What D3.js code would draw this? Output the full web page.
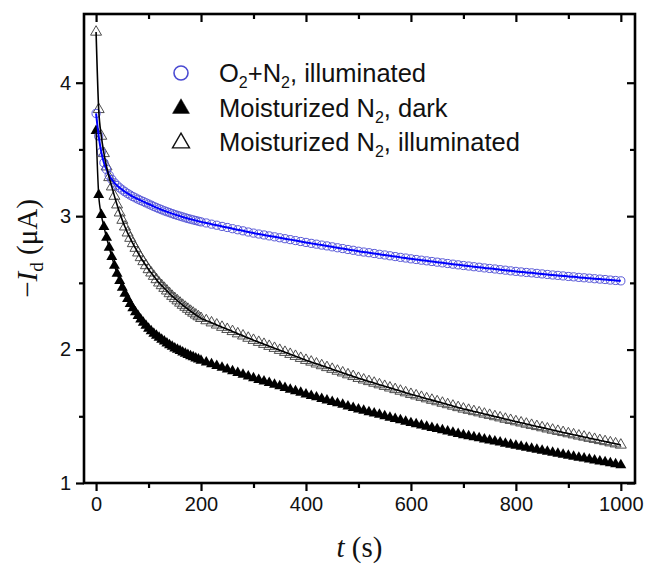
<!DOCTYPE html>
<html>
<head>
<meta charset="utf-8">
<script src="https://cdn.jsdelivr.net/npm/d3@7"></script>
<style>
  body { margin: 0; background: #fff; }
  svg { display: block; }
</style>
</head>
<body>
<svg id="chart" width="647" height="570"></svg>
<script>
// Sampling times (s): every 5 s up to 200 s, then every 10 s
const times = [
  0, 5, 10, 15, 20, 25, 30, 35, 40, 45, 50, 55, 60, 65, 70, 75, 80, 85, 90, 95,
  100, 105, 110, 115, 120, 125, 130, 135, 140, 145, 150, 155, 160, 165, 170, 175, 180, 185, 190, 195, 200,
  210, 220, 230, 240, 250, 260, 270, 280, 290, 300,
  310, 320, 330, 340, 350, 360, 370, 380, 390, 400,
  410, 420, 430, 440, 450, 460, 470, 480, 490, 500,
  510, 520, 530, 540, 550, 560, 570, 580, 590, 600,
  610, 620, 630, 640, 650, 660, 670, 680, 690, 700,
  710, 720, 730, 740, 750, 760, 770, 780, 790, 800,
  810, 820, 830, 840, 850, 860, 870, 880, 890, 900,
  910, 920, 930, 940, 950, 960, 970, 980, 990, 1000
];

// -I_d (µA), O2+N2 under illumination
const o2n2Illuminated = [
  3.77, 3.60, 3.48, 3.40, 3.35, 3.305, 3.275, 3.25, 3.23, 3.212, 3.197, 3.183, 3.170, 3.158, 3.147, 3.137, 3.127, 3.118, 3.109, 3.100,
  3.091, 3.082, 3.073, 3.064, 3.056, 3.048, 3.040, 3.033, 3.026, 3.019, 3.012, 3.006, 3.000, 2.994, 2.988, 2.982, 2.977, 2.972, 2.967, 2.962, 2.957,
  2.949, 2.940, 2.932, 2.923, 2.915, 2.906, 2.898, 2.890, 2.881, 2.873,
  2.866, 2.859, 2.852, 2.845, 2.838, 2.831, 2.824, 2.817, 2.810, 2.803,
  2.796, 2.790, 2.783, 2.777, 2.770, 2.763, 2.757, 2.750, 2.744, 2.737,
  2.731, 2.726, 2.720, 2.714, 2.709, 2.703, 2.697, 2.691, 2.686, 2.680,
  2.675, 2.670, 2.665, 2.660, 2.655, 2.650, 2.645, 2.640, 2.635, 2.630,
  2.626, 2.621, 2.617, 2.612, 2.608, 2.604, 2.599, 2.595, 2.590, 2.586,
  2.582, 2.578, 2.575, 2.571, 2.567, 2.563, 2.559, 2.556, 2.552, 2.548,
  2.545, 2.541, 2.538, 2.535, 2.531, 2.528, 2.525, 2.521, 2.518, 2.515
];

// -I_d (µA), moisturized N2 in the dark
const moistDark = [
  3.64, 3.16, 3.01, 2.92, 2.84, 2.765, 2.695, 2.63, 2.57, 2.515, 2.465, 2.42, 2.38, 2.343, 2.31, 2.28, 2.252, 2.226, 2.202, 2.18,
  2.158, 2.138, 2.120, 2.104, 2.089, 2.075, 2.061, 2.047, 2.034, 2.022, 2.010, 2.000, 1.990, 1.980, 1.970, 1.961, 1.952, 1.943, 1.935, 1.926, 1.918,
  1.905, 1.892, 1.878, 1.865, 1.852, 1.839, 1.826, 1.812, 1.799, 1.786,
  1.774, 1.762, 1.750, 1.738, 1.726, 1.713, 1.701, 1.689, 1.677, 1.665,
  1.654, 1.643, 1.631, 1.620, 1.609, 1.598, 1.587, 1.575, 1.564, 1.553,
  1.543, 1.532, 1.522, 1.512, 1.502, 1.491, 1.481, 1.471, 1.460, 1.450,
  1.441, 1.432, 1.423, 1.414, 1.405, 1.396, 1.387, 1.378, 1.369, 1.360,
  1.352, 1.344, 1.336, 1.328, 1.320, 1.312, 1.304, 1.296, 1.288, 1.280,
  1.273, 1.265, 1.258, 1.250, 1.243, 1.235, 1.228, 1.220, 1.213, 1.205,
  1.198, 1.191, 1.184, 1.177, 1.170, 1.163, 1.156, 1.149, 1.142, 1.135
];

// -I_d (µA), moisturized N2 under illumination
const moistIlluminated = [
  4.38, 3.80, 3.60, 3.47, 3.37, 3.29, 3.22, 3.15, 3.085, 3.025, 2.97, 2.92, 2.875, 2.835, 2.795, 2.76, 2.725, 2.69, 2.66, 2.63,
  2.60, 2.575, 2.55, 2.525, 2.50, 2.48, 2.46, 2.44, 2.42, 2.40, 2.383, 2.366, 2.349, 2.333, 2.318, 2.303, 2.288, 2.274, 2.260, 2.247, 2.234,
  2.217, 2.201, 2.185, 2.168, 2.152, 2.136, 2.119, 2.103, 2.086, 2.070,
  2.055, 2.040, 2.025, 2.010, 1.995, 1.980, 1.965, 1.950, 1.935, 1.920,
  1.907, 1.893, 1.880, 1.866, 1.853, 1.839, 1.826, 1.812, 1.799, 1.785,
  1.773, 1.761, 1.749, 1.737, 1.725, 1.713, 1.701, 1.689, 1.677, 1.665,
  1.654, 1.643, 1.632, 1.621, 1.610, 1.599, 1.588, 1.577, 1.566, 1.555,
  1.546, 1.536, 1.527, 1.517, 1.508, 1.498, 1.489, 1.479, 1.470, 1.460,
  1.451, 1.442, 1.433, 1.424, 1.415, 1.406, 1.397, 1.388, 1.379, 1.370,
  1.362, 1.353, 1.345, 1.336, 1.328, 1.319, 1.311, 1.302, 1.294, 1.285
];

const xMajorTicks = [0, 200, 400, 600, 800, 1000];
const xMinorTicks = [100, 300, 500, 700, 900];
const yMajorTicks = [1, 2, 3, 4];
const yMinorTicks = [1.5, 2.5, 3.5];

const legendLabels = [
  { key: "circle", parts: [["O", false], ["2", true], ["+N", false], ["2", true], [", illuminated", false]] },
  { key: "filled", parts: [["Moisturized N", false], ["2", true], [", dark", false]] },
  { key: "open",   parts: [["Moisturized N", false], ["2", true], [", illuminated", false]] }
];

const svg = d3.select("#chart");
const margin = { left: 84, top: 14, right: 12, bottom: 87 };
const W = 647, H = 570;
const x0 = margin.left, x1 = W - margin.right;
const y0 = margin.top, y1 = H - margin.bottom;

const x = d3.scaleLinear().domain([-23, 1027]).range([x0, x1]);
const y = d3.scaleLinear().domain([1, 4.515]).range([y1, y0]);

const sansFont = "'Liberation Sans', Arial, Helvetica, sans-serif";
const serifFont = "'Liberation Serif', 'Times New Roman', serif";

const zip = vals => times.map((t, i) => ({ t, v: vals[i] }));
const blueData = zip(o2n2Illuminated);
const darkData = zip(moistDark);
const illumData = zip(moistIlluminated);

svg.append("clipPath").attr("id", "plotclip")
  .append("rect").attr("x", x0).attr("y", y0).attr("width", x1 - x0).attr("height", y1 - y0);
const plot = svg.append("g").attr("clip-path", "url(#plotclip)");

const tri = d3.symbol().type(d3.symbolTriangle).size(52);

// filled triangles
plot.append("g").selectAll("path").data(darkData).join("path")
  .attr("d", tri)
  .attr("transform", d => `translate(${x(d.t)},${y(d.v)})`)
  .attr("fill", "#000");

// open triangles
plot.append("g").selectAll("path").data(illumData).join("path")
  .attr("d", tri)
  .attr("transform", d => `translate(${x(d.t)},${y(d.v)})`)
  .attr("fill", "none")
  .attr("stroke", "#3a3a3a")
  .attr("stroke-width", 0.9);

// open circles
plot.append("g").selectAll("circle").data(blueData).join("circle")
  .attr("cx", d => x(d.t)).attr("cy", d => y(d.v)).attr("r", 4.1)
  .attr("fill", "none")
  .attr("stroke", "#5a5ad8")
  .attr("stroke-width", 1);

const line = d3.line().x(d => x(d.t)).y(d => y(d.v)).curve(d3.curveMonotoneX);

plot.append("path").datum(blueData).attr("d", line)
  .attr("fill", "none").attr("stroke", "#0000ff").attr("stroke-width", 2);
plot.append("path").datum(darkData).attr("d", line)
  .attr("fill", "none").attr("stroke", "#000").attr("stroke-width", 1.5);
plot.append("path").datum(illumData).attr("d", line)
  .attr("fill", "none").attr("stroke", "#000").attr("stroke-width", 1.6);

// axes
function styleAxis(g) {
  g.select(".domain").remove();
  g.selectAll(".tick line").attr("stroke", "#000").attr("stroke-width", 2.2);
  g.selectAll(".tick text").attr("fill", "#111").style("font-family", sansFont).style("font-size", "20px");
}

svg.append("g").attr("transform", `translate(0,${y1})`)
  .call(d3.axisBottom(x).tickValues(xMajorTicks).tickSize(8).tickPadding(6).tickFormat(d3.format("d")))
  .call(styleAxis);
svg.append("g").attr("transform", `translate(0,${y1})`)
  .call(d3.axisBottom(x).tickValues(xMinorTicks).tickSize(5).tickFormat(""))
  .call(styleAxis);

svg.append("g").attr("transform", `translate(0,${y0})`)
  .call(d3.axisBottom(x).tickValues(xMajorTicks).tickSize(8).tickFormat(""))
  .call(styleAxis);
svg.append("g").attr("transform", `translate(0,${y0})`)
  .call(d3.axisBottom(x).tickValues(xMinorTicks).tickSize(5).tickFormat(""))
  .call(styleAxis);

svg.append("g").attr("transform", `translate(${x0},0)`)
  .call(d3.axisLeft(y).tickValues(yMajorTicks).tickSize(8).tickPadding(5).tickFormat(d3.format("d")))
  .call(styleAxis);
svg.append("g").attr("transform", `translate(${x0},0)`)
  .call(d3.axisLeft(y).tickValues(yMinorTicks).tickSize(5).tickFormat(""))
  .call(styleAxis);

svg.append("g").attr("transform", `translate(${x1},0)`)
  .call(d3.axisLeft(y).tickValues(yMajorTicks).tickSize(8).tickFormat(""))
  .call(styleAxis);
svg.append("g").attr("transform", `translate(${x1},0)`)
  .call(d3.axisLeft(y).tickValues(yMinorTicks).tickSize(5).tickFormat(""))
  .call(styleAxis);

// frame
svg.append("rect")
  .attr("x", x0).attr("y", y0).attr("width", x1 - x0).attr("height", y1 - y0)
  .attr("fill", "none").attr("stroke", "#000").attr("stroke-width", 2.6);

// legend
const legend = svg.append("g");
const legX = 181, legY0 = 73, legDy = 34.5, legTextX = 219;
legendLabels.forEach((item, i) => {
  const cy = legY0 + i * legDy;
  if (item.key === "circle") {
    legend.append("circle").attr("cx", legX).attr("cy", cy).attr("r", 7)
      .attr("fill", "none").attr("stroke", "#4a4ad2").attr("stroke-width", 1.6);
  } else {
    legend.append("path")
      .attr("d", d3.symbol().type(d3.symbolTriangle).size(125)())
      .attr("transform", `translate(${legX},${cy + 1})`)
      .attr("fill", item.key === "filled" ? "#000" : "none")
      .attr("stroke", "#111")
      .attr("stroke-width", item.key === "filled" ? 0.5 : 1.4);
  }
  const txt = legend.append("text")
    .attr("x", legTextX).attr("y", cy + 9)
    .style("font-family", sansFont).style("font-size", "25.5px").attr("fill", "#111");
  let first = true;
  item.parts.forEach(([s, sub]) => {
    const ts = txt.append("tspan").text(s);
    if (sub) ts.attr("dy", 6).style("font-size", "16px");
    else if (!first) ts.attr("dy", -6);
    first = false;
  });
});

// axis titles
const xt = svg.append("text")
  .attr("x", (x0 + x1) / 2).attr("y", 557)
  .attr("text-anchor", "middle")
  .style("font-family", serifFont).style("font-size", "29px").attr("fill", "#111");
xt.append("tspan").style("font-style", "italic").text("t");
xt.append("tspan").text(" (s)");

const yt = svg.append("text")
  .attr("transform", `translate(37,${(y0 + y1) / 2}) rotate(-90)`)
  .attr("text-anchor", "middle")
  .style("font-family", serifFont).style("font-size", "29px").attr("fill", "#111");
yt.append("tspan").text("\u2212");
yt.append("tspan").style("font-style", "italic").text("I");
yt.append("tspan").attr("dy", 6).style("font-size", "19px").text("d");
yt.append("tspan").attr("dy", -6).text(" (\u03bcA)");
</script>
</body>
</html>
